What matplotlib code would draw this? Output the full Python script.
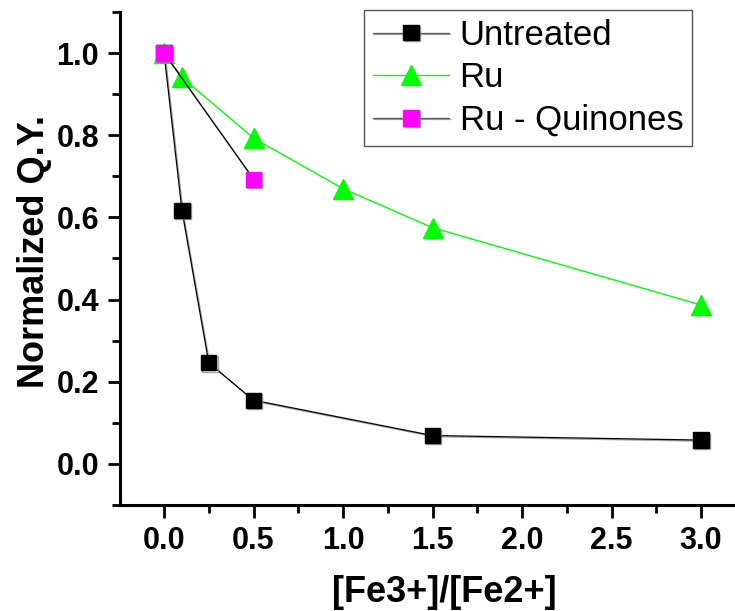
import matplotlib
matplotlib.use("Agg")
import matplotlib.pyplot as plt
import matplotlib.patheffects as pe
from matplotlib.ticker import MultipleLocator

plt.rcParams["font.family"] = ["Liberation Sans", "DejaVu Sans"]

# data
untreated_x = [0.0, 0.1, 0.25, 0.5, 1.5, 3.0]
untreated_y = [1.0, 0.617, 0.246, 0.155, 0.069, 0.058]
ru_x = [0.0, 0.1, 0.5, 1.0, 1.5, 3.0]
ru_y = [1.0, 0.941, 0.793, 0.670, 0.575, 0.387]
ruq_x = [0.0, 0.5]
ruq_y = [1.0, 0.693]

GREEN = "#00FF00"
MAGENTA = "#FF00FF"
shadow = [pe.SimpleLineShadow(offset=(0.8, -0.8), shadow_color="0.55", alpha=0.8),
          pe.Normal()]

fig = plt.figure(figsize=(7.35, 6.11), dpi=100)
ax = fig.add_axes([0.1633, 0.1735, 0.8367, 0.8069])

ax.plot(untreated_x, untreated_y, color="black", lw=0.9, marker="s", ms=11,
        mfc="black", mec="black", label="Untreated", path_effects=shadow)
ax.plot(ru_x, ru_y, color=GREEN, lw=1.0, marker="^", ms=14,
        mfc=GREEN, mec=GREEN, label="Ru")
ax.plot(ruq_x, ruq_y, color="black", lw=0.9, marker="s", ms=11,
        mfc=MAGENTA, mec=MAGENTA, label="Ru - Quinones", path_effects=shadow)

ax.set_xlim(-0.246, 3.19)
ax.set_ylim(-0.1, 1.1)
ax.xaxis.set_minor_locator(MultipleLocator(0.25))
ax.yaxis.set_minor_locator(MultipleLocator(0.1))
ax.set_yticks([0.0, 0.2, 0.4, 0.6, 0.8, 1.0])
ax.set_yticklabels(["0.0", "0.2", "0.4", "0.6", "0.8", "1.0"])
ax.set_xticks([0.0, 0.5, 1.0, 1.5, 2.0, 2.5, 3.0])
ax.set_xticklabels(["0.0", "0.5", "1.0", "1.5", "2.0", "2.5", "3.0"])

for side in ["top", "right"]:
    ax.spines[side].set_visible(False)
for side in ["left", "bottom"]:
    ax.spines[side].set_linewidth(2.2)

ax.tick_params(which="major", direction="out", length=9, width=2.0,
               labelsize=22, pad=6)
ax.tick_params(which="minor", direction="out", length=6, width=2.0)
for lab in ax.get_xticklabels() + ax.get_yticklabels():
    lab.set_fontweight("bold")

ax.set_xlabel("[Fe3+]/[Fe2+]", fontsize=26, fontweight="bold")
ax.set_ylabel("Normalized Q.Y.", fontsize=26, fontweight="bold")
ax.xaxis.set_label_coords(0.527, -0.142)
ax.yaxis.set_label_coords(-0.11, 0.515)

leg = ax.legend(loc="upper right", bbox_to_anchor=(0.9415, 0.9836),
                bbox_transform=fig.transFigure, borderaxespad=0,
                fontsize=25, numpoints=1, handlelength=2.2, handletextpad=0.3,
                labelspacing=0.28, borderpad=0.25, fancybox=False,
                framealpha=1, edgecolor="#555555")
leg.get_frame().set_linewidth(1.0)
for line in leg.get_lines():
    if line.get_color() == "black":
        line.set_color("#555555")

fig.savefig("out.png", dpi=100)
